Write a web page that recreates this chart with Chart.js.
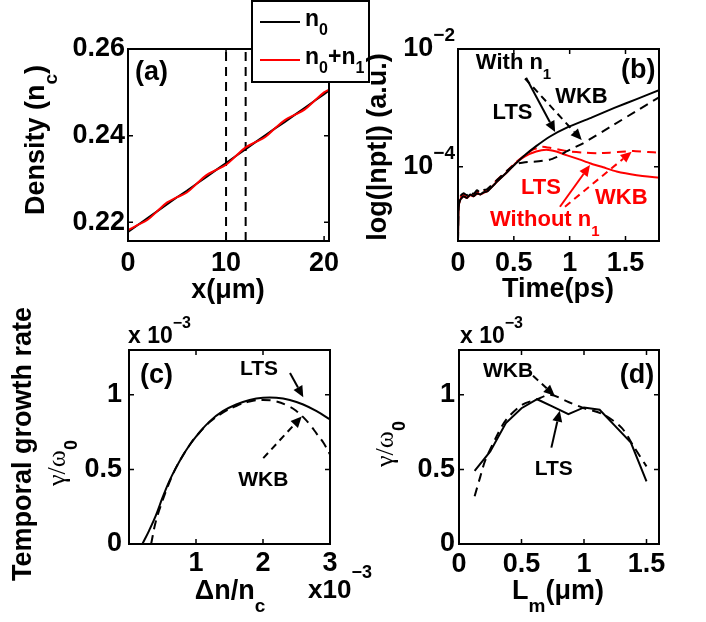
<!DOCTYPE html>
<html>
<head>
<meta charset="utf-8">
<title>Density profile, growth and growth rate</title>
<script src="https://cdn.jsdelivr.net/npm/chart.js@4.4.0/dist/chart.umd.min.js"></script>
<style>
  body { margin: 0; background: #fff; }
  #fig { position: relative; width: 706px; height: 622px; overflow: hidden; }
  #fig canvas { position: absolute; left: 0; top: 0; }
</style>
</head>
<body>
<div id="fig">
  <canvas id="panelA" width="706" height="622"></canvas>
  <canvas id="panelB" width="706" height="622"></canvas>
  <canvas id="panelC" width="706" height="622"></canvas>
  <canvas id="panelD" width="706" height="622"></canvas>
</div>
<script>
// (a) density profile: x in um, density in units of n_c
const xDensity = [0, 1, 2, 3, 4, 5, 6, 7, 8, 9, 10, 11, 12, 13, 14, 15, 16, 17, 18, 19, 20, 20.5];
const densN0 = [0.2178, 0.2194, 0.2210, 0.2226, 0.2242, 0.2258, 0.2273, 0.2289, 0.2305, 0.2321, 0.2337,
  0.2353, 0.2369, 0.2385, 0.2401, 0.2417, 0.2432, 0.2448, 0.2464, 0.2480, 0.2496, 0.2504];
const densN0N1 = [0.2182, 0.2194, 0.2206, 0.2226, 0.2246, 0.2258, 0.2269, 0.2289, 0.2309, 0.2321, 0.2333,
  0.2353, 0.2373, 0.2385, 0.2397, 0.2417, 0.2436, 0.2448, 0.2460, 0.2480, 0.2500, 0.2506];
const markX = [10, 12];
const ticksAx = [0, 10, 20];
const ticksAy = [0.22, 0.24, 0.26];

// (b) |npt| against time in ps
const tWithLTS = [0, 0.005, 0.02, 0.05, 0.08, 0.11, 0.14, 0.17, 0.2, 0.23, 0.26, 0.35, 0.45, 0.52, 0.6, 0.7, 0.82, 0.97, 1.2, 1.4, 1.6, 1.8];
const withLTS = [5.6e-6, 2.0e-5, 2.75e-5, 3.16e-5, 2.95e-5, 3.4e-5, 3.16e-5, 3.55e-5, 3.4e-5, 3.7e-5, 3.8e-5,
  5.6e-5, 8.5e-5, 1.15e-4, 1.58e-4, 2.24e-4, 3.24e-4, 4.57e-4, 6.9e-4, 1.0e-3, 1.41e-3, 2.0e-3];
const tWithWKB = [0, 0.005, 0.02, 0.05, 0.08, 0.11, 0.14, 0.17, 0.2, 0.23, 0.26, 0.35, 0.45, 0.52, 0.6, 0.7, 0.82, 0.9, 0.97, 1.12, 1.4, 1.6, 1.8];
const withWKB = [5.6e-6, 2.24e-5, 3.16e-5, 3.55e-5, 3.3e-5, 3.8e-5, 3.47e-5, 4.0e-5, 3.63e-5, 4.0e-5, 4.17e-5,
  6.0e-5, 8.9e-5, 1.12e-4, 1.2e-4, 1.23e-4, 1.32e-4, 1.51e-4, 1.82e-4, 2.51e-4, 5.25e-4, 8.9e-4, 1.51e-3];
const tNoLTS = [0, 0.005, 0.02, 0.05, 0.08, 0.11, 0.14, 0.17, 0.2, 0.23, 0.26, 0.35, 0.45, 0.52, 0.6, 0.7, 0.79, 0.88, 0.97, 1.08, 1.18, 1.3, 1.42, 1.6, 1.8];
const noLTS = [5.6e-6, 2.0e-5, 2.75e-5, 3.16e-5, 2.95e-5, 3.3e-5, 3.16e-5, 3.47e-5, 3.4e-5, 3.63e-5, 3.8e-5,
  5.6e-5, 8.5e-5, 1.17e-4, 1.51e-4, 1.82e-4, 1.95e-4, 1.82e-4, 1.58e-4, 1.35e-4, 1.15e-4, 9.8e-5, 8.3e-5, 7.2e-5, 6.5e-5];
const tNoWKB = [0.02, 0.05, 0.08, 0.11, 0.14, 0.17, 0.2, 0.23, 0.26, 0.35, 0.45, 0.52, 0.6, 0.67, 0.75, 0.83, 0.91, 1.0, 1.12, 1.25, 1.36, 1.5, 1.57, 1.7, 1.8];
const noWKB = [3.0e-5, 3.4e-5, 3.2e-5, 3.6e-5, 3.3e-5, 3.8e-5, 3.5e-5, 3.9e-5, 4.0e-5, 6.0e-5, 8.9e-5, 1.2e-4,
  1.58e-4, 1.95e-4, 2.19e-4, 2.09e-4, 1.95e-4, 1.82e-4, 1.74e-4, 1.70e-4, 1.74e-4, 1.82e-4, 1.86e-4, 1.78e-4, 1.74e-4];
const ticksBx = [0, 0.5, 1, 1.5];
const ticksBy = [1e-4, 1e-2];

// (c) growth rate (x 1e-3) against dn/n_c (x 1e-3)
const dnLTS = [0.2, 0.3, 0.4, 0.5, 0.6, 0.7, 0.8, 0.9, 1.0, 1.2, 1.4, 1.6, 1.8, 2.0, 2.2, 2.4, 2.6, 2.8, 3.0];
const rateLTS = [0, 0.09, 0.19, 0.31, 0.42, 0.51, 0.59, 0.66, 0.72, 0.82, 0.89, 0.935, 0.965, 0.98, 0.98, 0.965, 0.935, 0.89, 0.835];
const dnWKB = [0.33, 0.4, 0.5, 0.6, 0.7, 0.8, 0.9, 1.0, 1.2, 1.4, 1.6, 1.8, 2.0, 2.2, 2.4, 2.5, 2.6, 2.7, 2.8, 2.9, 3.0];
const rateWKB = [0, 0.15, 0.29, 0.41, 0.51, 0.59, 0.66, 0.72, 0.815, 0.88, 0.925, 0.955, 0.965, 0.955, 0.92, 0.89, 0.85, 0.80, 0.74, 0.68, 0.60];
const ticksCx = [1, 2, 3];
const ticksCy = [0, 0.5, 1];

// (d) growth rate (x 1e-3) against L_m in um
const lmLTS = [0.125, 0.25, 0.375, 0.5, 0.625, 0.75, 0.875, 1.0, 1.125, 1.25, 1.375, 1.5];
const rateLmLTS = [0.49, 0.62, 0.81, 0.91, 0.97, 0.92, 0.87, 0.915, 0.90, 0.79, 0.68, 0.42];
const lmWKB = [0.125, 0.17, 0.21, 0.3, 0.375, 0.5, 0.625, 0.73, 0.88, 1.0, 1.15, 1.3, 1.4, 1.5];
const rateLmWKB = [0.32, 0.45, 0.56, 0.72, 0.83, 0.93, 0.97, 1.0, 0.95, 0.91, 0.87, 0.78, 0.65, 0.52];
const ticksDx = [0, 0.5, 1, 1.5];
const ticksDy = [0, 0.5, 1];

const W = 706, H = 622, AXIS_W = 80, AXIS_H = 40;
const SANS = '"Liberation Sans", Arial, Helvetica, sans-serif';
const SERIF = '"Liberation Serif", "Times New Roman", serif';
const RED = '#ff0000';
const DASH = [9, 6];

function pts(xs, ys) {
  return xs.map((x, i) => ({ x: x, y: ys[i] }));
}

function line(data, color, dashed, tension) {
  return {
    data: data, borderColor: color, borderWidth: 2, borderDash: dashed ? DASH : [],
    pointRadius: 0, fill: false, tension: tension
  };
}

// "n_0", "10^{-3}" -> pieces of normal / sub / sup text
function parseRich(str) {
  const parts = [];
  let cur = '', i = 0;
  while (i < str.length) {
    const c = str[i];
    if (c === '_' || c === '^') {
      if (cur) parts.push({ t: cur, k: 'n' });
      cur = '';
      let t;
      if (str[i + 1] === '{') {
        const j = str.indexOf('}', i);
        t = str.slice(i + 2, j);
        i = j + 1;
      } else {
        t = str[i + 1];
        i += 2;
      }
      parts.push({ t: t, k: c === '_' ? 'sub' : 'sup' });
    } else {
      cur += c;
      i++;
    }
  }
  if (cur) parts.push({ t: cur, k: 'n' });
  return parts;
}

function drawRich(ctx, str, x, y, o) {
  const size = o.size || 27;
  const subSize = Math.round(size * 0.7);
  const parts = parseRich(str).map(p => Object.assign(p, {
    font: p.k === 'n' ? `${o.weight || 'bold'} ${size}px ${o.family || SANS}` : `bold ${subSize}px ${SANS}`
  }));
  ctx.save();
  ctx.translate(x, y);
  if (o.rot) ctx.rotate(o.rot);
  ctx.fillStyle = o.color || '#000';
  ctx.textBaseline = 'middle';
  ctx.textAlign = 'left';
  let w = 0;
  parts.forEach(p => { ctx.font = p.font; p.w = ctx.measureText(p.t).width; w += p.w; });
  let cx = o.align === 'center' ? -w / 2 : o.align === 'right' ? -w : 0;
  parts.forEach(p => {
    ctx.font = p.font;
    const dy = p.k === 'sub' ? size * (o.subShift || 0.55) : p.k === 'sup' ? -size * (o.supShift || 0.5) : 0;
    ctx.fillText(p.t, cx, dy);
    cx += p.w;
  });
  ctx.restore();
}

function arrow(ctx, x1, y1, x2, y2, color, dashed) {
  const ang = Math.atan2(y2 - y1, x2 - x1), hl = 11, hw = 5;
  const bx = x2 - hl * Math.cos(ang), by = y2 - hl * Math.sin(ang);
  ctx.save();
  ctx.strokeStyle = color;
  ctx.fillStyle = color;
  ctx.lineWidth = 2;
  ctx.setLineDash(dashed ? [7, 5] : []);
  ctx.beginPath();
  ctx.moveTo(x1, y1);
  ctx.lineTo(bx, by);
  ctx.stroke();
  ctx.setLineDash([]);
  ctx.beginPath();
  ctx.moveTo(x2, y2);
  ctx.lineTo(bx + hw * Math.sin(ang), by - hw * Math.cos(ang));
  ctx.lineTo(bx - hw * Math.sin(ang), by + hw * Math.cos(ang));
  ctx.closePath();
  ctx.fill();
  ctx.restore();
}

// box, inward ticks, labels and arrows drawn over each panel
function decor(spec) {
  return {
    id: 'decor',
    afterDraw(chart) {
      const ctx = chart.ctx, a = chart.chartArea, xs = chart.scales.x, ys = chart.scales.y;
      ctx.save();
      ctx.strokeStyle = '#000';
      ctx.lineWidth = 1.5;
      ctx.beginPath();
      xs.ticks.forEach(t => {
        const p = xs.getPixelForValue(t.value);
        ctx.moveTo(p, a.bottom); ctx.lineTo(p, a.bottom - 5);
        ctx.moveTo(p, a.top); ctx.lineTo(p, a.top + 5);
      });
      ys.ticks.forEach(t => {
        const p = ys.getPixelForValue(t.value);
        ctx.moveTo(a.left, p); ctx.lineTo(a.left + 5, p);
        ctx.moveTo(a.right, p); ctx.lineTo(a.right - 5, p);
      });
      ctx.stroke();
      ctx.lineWidth = 2;
      ctx.strokeRect(a.left, a.top, a.right - a.left, a.bottom - a.top);
      ctx.restore();

      if (spec.logLabels) {
        ys.ticks.forEach(t => {
          const e = Math.round(Math.log10(t.value));
          drawRich(ctx, '10^{' + (e < 0 ? '\u2212' : '') + Math.abs(e) + '}', a.left - 3, ys.getPixelForValue(t.value), { align: 'right' });
        });
      }
      (spec.arrows || []).forEach(r => arrow(ctx,
        xs.getPixelForValue(r.from[0]), ys.getPixelForValue(r.from[1]),
        xs.getPixelForValue(r.to[0]), ys.getPixelForValue(r.to[1]), r.color || '#000', r.dash));
      (spec.notes || []).forEach(n => {
        const px = n.px !== undefined ? n.px : xs.getPixelForValue(n.x);
        const py = n.py !== undefined ? n.py : ys.getPixelForValue(n.y);
        drawRich(ctx, n.s, px, py, n);
      });
      if (spec.extra) spec.extra(ctx);
    }
  };
}

function axis(min, max, ticks, o) {
  return {
    type: o.log ? 'logarithmic' : 'linear',
    min: min, max: max,
    grid: { display: false, drawTicks: false },
    border: { display: false },
    afterBuildTicks: s => { s.ticks = ticks.map(v => ({ value: v })); },
    afterFit: s => { if (o.y) s.width = AXIS_W; else s.height = AXIS_H; },
    ticks: {
      display: !o.hide, padding: o.pad, color: '#000', autoSkip: false, maxRotation: 0,
      font: { family: SANS, size: 27, weight: 'bold' },
      callback: o.fmt || (v => String(v))
    }
  };
}

function makePanel(id, box, xAxis, yAxis, datasets, spec) {
  return new Chart(document.getElementById(id), {
    type: 'line',
    data: { datasets: datasets },
    options: {
      responsive: false, animation: false, events: [],
      layout: { padding: { left: box.l - AXIS_W, top: box.t, right: W - box.r, bottom: H - box.b - AXIS_H } },
      plugins: { legend: { display: false }, tooltip: { enabled: false } },
      scales: { x: xAxis, y: yAxis }
    },
    plugins: [decor(spec)]
  });
}

function drawLegend(ctx) {
  ctx.save();
  ctx.fillStyle = '#fff';
  ctx.fillRect(252, 1, 117, 81);
  ctx.strokeStyle = '#000';
  ctx.lineWidth = 2;
  ctx.strokeRect(252, 1, 117, 81);
  [['#000', 22, 'n_0'], [RED, 60, 'n_0+n_1']].forEach(([c, y, s]) => {
    ctx.strokeStyle = c;
    ctx.beginPath();
    ctx.moveTo(260, y);
    ctx.lineTo(300, y);
    ctx.stroke();
    drawRich(ctx, s, 305, y - 2, { size: 23, subShift: 0.45 });
  });
  ctx.restore();
}

const yMinA = 0.2157, yMaxA = 0.26;
makePanel('panelA', { l: 128, t: 49, r: 329, b: 241 },
  axis(0, 20.5, ticksAx, { pad: 6 }),
  axis(yMinA, yMaxA, ticksAy, { y: true, pad: 3, fmt: v => v.toFixed(2) }),
  [
    line(pts(xDensity, densN0N1), RED, false, 0.4),
    line(pts(xDensity, densN0), '#000', false, 0),
    ...markX.map(x => line([{ x: x, y: yMinA }, { x: x, y: yMaxA }], '#000', true, 0))
  ],
  {
    notes: [
      { x: 0.71, y: 0.2545, s: '(a)' },
      { px: 228, py: 291, s: 'x(\u03bcm)', align: 'center' },
      { px: 37, py: 140, s: 'Density (n_c)', align: 'center', rot: -Math.PI / 2 }
    ],
    extra: drawLegend
  });

makePanel('panelB', { l: 458, t: 49, r: 659, b: 241 },
  axis(0, 1.8, ticksBx, { pad: 6 }),
  axis(5.5e-6, 1e-2, ticksBy, { y: true, log: true, hide: true, pad: 3 }),
  [
    line(pts(tWithLTS, withLTS), '#000', false, 0.15),
    line(pts(tWithWKB, withWKB), '#000', true, 0.15),
    line(pts(tNoLTS, noLTS), RED, false, 0.15),
    line(pts(tNoWKB, noWKB), RED, true, 0.15)
  ],
  {
    logLabels: true,
    notes: [
      { px: 558, py: 290, s: 'Time(ps)', align: 'center' },
      { px: 379, py: 147, s: 'log(|npt|) (a.u.)', align: 'center', rot: -Math.PI / 2 },
      { x: 1.46, y: 4.37e-3, s: '(b)' },
      { x: 0.16, y: 5.75e-3, s: 'With n_1', size: 22 },
      { x: 0.87, y: 1.53e-3, s: 'WKB', size: 22 },
      { x: 0.31, y: 8.2e-4, s: 'LTS', size: 22 },
      { x: 0.564, y: 4.37e-5, s: 'LTS', size: 22, color: RED },
      { x: 1.227, y: 2.95e-5, s: 'WKB', size: 22, color: RED },
      { x: 0.287, y: 1.26e-5, s: 'Without n_1', size: 22, color: RED }
    ],
    arrows: [
      { from: [0.61, 3.24e-3], to: [0.87, 3.9e-4] },
      { from: [0.60, 3.16e-3], to: [1.108, 2.85e-4], dash: true },
      { from: [0.913, 2.1e-5], to: [1.182, 1.07e-4], color: RED },
      { from: [0.958, 2.1e-5], to: [1.555, 1.8e-4], color: RED, dash: true }
    ]
  });

makePanel('panelC', { l: 129, t: 350, r: 330, b: 544 },
  axis(0, 3, ticksCx, { pad: 3 }),
  axis(0, 1.3, ticksCy, { y: true, pad: 7 }),
  [
    line(pts(dnLTS, rateLTS), '#000', false, 0.4),
    line(pts(dnWKB, rateWKB), '#000', true, 0.4)
  ],
  {
    notes: [
      { x: 0.164, y: 1.128, s: '(c)' },
      { x: 1.657, y: 1.174, s: 'LTS', size: 21 },
      { x: 1.63, y: 0.43, s: 'WKB', size: 21 },
      { px: 128, py: 337, s: 'x 10^{\u22123}', size: 23, supShift: 0.6 },
      { px: 308, py: 591, s: 'x10^{\u22123}', size: 26, supShift: 0.7 },
      { px: 230, py: 592, s: '\u0394n/n_c', align: 'center' },
      { px: 24, py: 444, s: 'Temporal growth rate', align: 'center', rot: -Math.PI / 2 },
      { px: 58, py: 463, s: '\u03b3/\u03c9_0', align: 'center', rot: -Math.PI / 2, family: SERIF, weight: 'normal', size: 26 }
    ],
    arrows: [
      { from: [2.403, 1.146], to: [2.601, 0.984] },
      { from: [2.004, 0.575], to: [2.578, 0.855], dash: true }
    ]
  });

makePanel('panelD', { l: 459, t: 350, r: 659, b: 544 },
  axis(0, 1.6, ticksDx, { pad: 4 }),
  axis(0, 1.3, ticksDy, { y: true, pad: 4 }),
  [
    line(pts(lmLTS, rateLmLTS), '#000', false, 0),
    line(pts(lmWKB, rateLmWKB), '#000', true, 0.3)
  ],
  {
    notes: [
      { x: 1.286, y: 1.128, s: '(d)' },
      { x: 0.192, y: 1.161, s: 'WKB', size: 21 },
      { x: 0.606, y: 0.501, s: 'LTS', size: 21 },
      { px: 460, py: 337, s: 'x 10^{\u22123}', size: 23, supShift: 0.6 },
      { px: 512, py: 592, s: 'L_m(\u03bcm)' },
      { px: 386, py: 444, s: '\u03b3/\u03c9_0', align: 'center', rot: -Math.PI / 2, family: SERIF, weight: 'normal', size: 26 }
    ],
    arrows: [
      { from: [0.592, 1.128], to: [0.766, 0.993], dash: true },
      { from: [0.739, 0.646], to: [0.806, 0.893] }
    ]
  });
</script>
</body>
</html>
